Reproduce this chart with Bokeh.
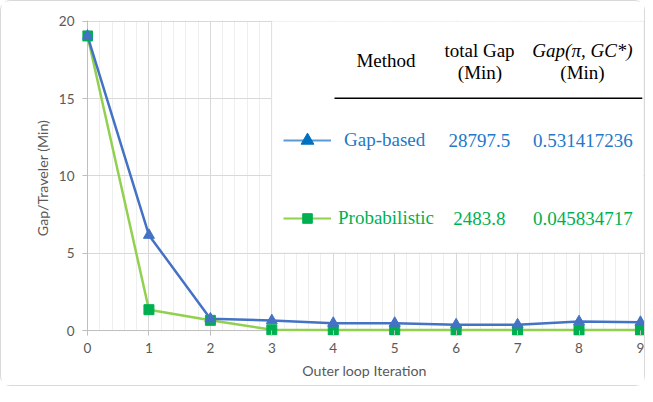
import numpy as np
from bokeh.plotting import figure
from bokeh.models import (Range1d, FixedTicker, BoxAnnotation, Label, Legend,
                          LegendItem, LinearAxis, Grid, Span)
from bokeh.embed import file_html
from bokeh.resources import INLINE

# ---------------- data ----------------
iterations = [0, 1, 2, 3, 4, 5, 6, 7, 8, 9]
gap_based = [19.05, 6.17, 0.76, 0.65, 0.48, 0.48, 0.38, 0.38, 0.58, 0.54]
probabilistic = [19.05, 1.35, 0.66, 0.05, 0.04, 0.04, 0.03, 0.03, 0.03, 0.03]
x_ticks = [0, 1, 2, 3, 4, 5, 6, 7, 8, 9]
y_ticks = [0, 5, 10, 15, 20]
methods = ["Gap-based", "Probabilistic"]
total_gap = ["28797.5", "2483.8"]
gap_pi_gc = ["0.531417236", "0.045834717"]
header_method = "Method"
header_total = ["total Gap", "(Min)"]
header_gap = ["Gap(\u03c0, GC*)", "(Min)"]

# ---------------- styles ----------------
BLUE_LINE = "#4472C4"
BLUE_MARK = "#4472C4"
BLUE_LEG_LINE = "#5B9BD5"
BLUE_LEG_MARK = "#0070C0"
BLUE_TEXT = "#2378C8"
GREEN_LINE = "#92D050"
GREEN_MARK = "#00B050"
GREEN_TEXT = "#00B050"
GRAY_TEXT = "#595959"
AXIS_GRAY = "#bfbfbf"
SERIF = "Liberation Serif"
SANS = "Lato"

p = figure(width=645, height=386,
           x_range=Range1d(-0.0814, 9.0986), y_range=Range1d(-0.32, 20.05),
           x_axis_type=None, y_axis_type=None,
           output_backend="svg", toolbar_location=None,
           min_border_left=81, min_border_right=0,
           min_border_top=19, min_border_bottom=52)
p.outline_line_color = None
p.background_fill_color = "white"
p.border_fill_color = "white"
p.styles = {"border": "1px solid #d9d9d9", "border-radius": "10px",
            "box-sizing": "border-box"}

minor = [i / 5 for i in range(46) if i % 5]
xticker = FixedTicker(ticks=x_ticks, minor_ticks=minor)
yticker = FixedTicker(ticks=y_ticks)

p.add_layout(Grid(dimension=0, ticker=xticker, grid_line_color="#d9d9d9",
                  minor_grid_line_color="#eeeeee", level="underlay"))
p.add_layout(Grid(dimension=1, ticker=yticker, grid_line_color="#d9d9d9",
                  level="underlay"))

# hide grid stubs outside the zero lines
p.add_layout(BoxAnnotation(top=0, fill_color="white", fill_alpha=1,
                           line_color=None, level="underlay"))
p.add_layout(BoxAnnotation(right=0, fill_color="white", fill_alpha=1,
                           line_color=None, level="underlay"))
# axis rules at zero
p.add_layout(Span(location=0, dimension="width", line_color=AXIS_GRAY,
                  line_width=1, level="underlay"))
p.add_layout(Span(location=0, dimension="height", line_color=AXIS_GRAY,
                  line_width=1, level="underlay"))

xaxis = LinearAxis(ticker=xticker, axis_label="Outer loop Iteration")
yaxis = LinearAxis(ticker=yticker, axis_label="Gap/Traveler (Min)")
for ax in (xaxis, yaxis):
    ax.axis_line_color = None
    ax.major_tick_line_color = AXIS_GRAY
    ax.major_tick_in = 5
    ax.major_tick_out = 0
    ax.minor_tick_line_color = None
    ax.major_label_text_font = SANS
    ax.major_label_text_font_size = "13.5px"
    ax.major_label_text_color = GRAY_TEXT
    ax.axis_label_text_font = SANS
    ax.axis_label_text_font_size = "14.2px"
    ax.axis_label_text_font_style = "normal"
    ax.axis_label_text_color = GRAY_TEXT
xaxis.major_label_standoff = 3
xaxis.axis_label_standoff = 6
yaxis.major_label_standoff = 8
yaxis.axis_label_standoff = 5
p.add_layout(xaxis, "below")
p.add_layout(yaxis, "left")

# ---------------- series ----------------
p.line(iterations, probabilistic, line_color=GREEN_LINE, line_width=2.5)
p.line(iterations, gap_based, line_color=BLUE_LINE, line_width=2.5)
p.scatter(iterations, probabilistic, marker="square", size=10,
          fill_color=GREEN_MARK, line_color=GREEN_MARK)
p.scatter(iterations, gap_based, marker="triangle", size=11,
          fill_color=BLUE_MARK, line_color=BLUE_MARK)

# ---------------- table / legend box ----------------
p.add_layout(BoxAnnotation(left=3.0, right=9.05, bottom=5.05, top=20,
                           fill_color="white", fill_alpha=1,
                           line_color="#e3e3e3", line_width=1))
p.add_layout(BoxAnnotation(left=4.02, right=9.03, bottom=14.97, top=15.07,
                           fill_color="black", fill_alpha=1, line_color=None))

def lab(x, y, text, color="black", style="normal"):
    p.add_layout(Label(x=x, y=y, text=text, text_align="center",
                       text_baseline="middle", text_font=SERIF,
                       text_font_size="19px", text_color=color,
                       text_font_style=style))

lab(4.858, 17.46, header_method)
lab(6.38, 18.11, header_total[0])
lab(6.388, 16.69, header_total[1])
lab(8.057, 18.11, header_gap[0], style="italic")
lab(8.057, 16.69, header_gap[1])

row_y = [12.29, 7.24]
row_col = [BLUE_TEXT, GREEN_TEXT]
for i in range(2):
    lab(6.38, row_y[i], total_gap[i], row_col[i])
    lab(8.065, row_y[i], gap_pi_gc[i], row_col[i])

# legend sample renderers (hidden, styled like the legend samples)
pl1 = p.line(iterations, gap_based, line_color=BLUE_LEG_LINE, line_width=2, visible=False)
pm1 = p.scatter(iterations, gap_based, marker="triangle", size=11,
                fill_color=BLUE_LEG_MARK, line_color=BLUE_LEG_MARK, visible=False)
pl2 = p.line(iterations, probabilistic, line_color=GREEN_LINE, line_width=2, visible=False)
pm2 = p.scatter(iterations, probabilistic, marker="square", size=10,
                fill_color=GREEN_MARK, line_color=GREEN_MARK, visible=False)

def make_legend(label, rends, loc, standoff, color, gh):
    leg = Legend(items=[LegendItem(label=label, renderers=rends)],
                 location=loc, glyph_width=48, glyph_height=gh,
                 label_standoff=standoff, padding=0, margin=0, spacing=0,
                 border_line_color=None, background_fill_alpha=0,
                 label_text_font=SERIF, label_text_font_size="19px",
                 label_text_color=color, label_height=20)
    p.add_layout(leg, "center")

make_legend(methods[0], [pl1, pm1], (201, 179), 13, BLUE_TEXT, 32)
make_legend(methods[1], [pl2, pm2], (201, 105), 7, GREEN_TEXT, 24)

open("out.html", "w").write(file_html(p, INLINE))
